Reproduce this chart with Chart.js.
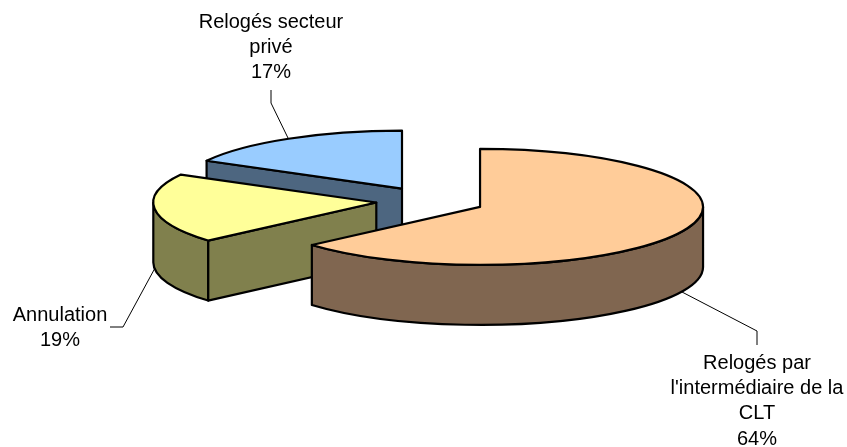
<!DOCTYPE html>
<html><head><meta charset="utf-8">
<style>html,body{margin:0;padding:0;background:#fff}#w{width:847px;height:447px;position:relative}canvas{display:block}</style>
<script src="https://cdn.jsdelivr.net/npm/chart.js@4/dist/chart.umd.min.js"></script>
</head><body><div id="w"><canvas id="c" width="847" height="447"></canvas></div>
<script>
const categories = ["Relogés par l'intermédiaire de la CLT", "Annulation", "Relogés secteur privé"];
const values = [63.6, 19.4, 17];
const topColors = ["#FFCC99", "#FFFF99", "#99CCFF"];
const sideColors = ["#806650", "#80804D", "#4D6680"];
const explode = [55, 54, 55];
const labelLines = [
  ["Relogés par", "l'intermédiaire de la", "CLT", "64%"],
  ["Annulation", "19%"],
  ["Relogés secteur", "privé", "17%"]
];
const labelAnchors = [[757, 369], [60, 321], [271, 28]];
const leaders = [
  [[682, 292], [757, 331], [757, 345]],
  [[155, 268], [123, 327], [110, 327]],
  [[288, 138], [271, 103], [271, 90]]
];
const SQUASH = 0.26, DEPTH = 60, RADIUS = 223, LINE_H = 25.2;

function squashAbout(ctx, cy) {
  ctx.translate(0, cy); ctx.scale(1, SQUASH); ctx.translate(0, -cy);
}
function geometry(el, i) {
  const mid = (el.startAngle + el.endAngle) / 2;
  const dx = Math.cos(mid) * explode[i], dy = Math.sin(mid) * explode[i];
  return { dx, dy, x: el.x + dx, y: el.y + dy, r: el.outerRadius };
}
function paintPath(ctx, cy, build, fill) {
  ctx.save(); squashAbout(ctx, cy);
  ctx.beginPath(); build();
  ctx.restore();
  if (fill) { ctx.fillStyle = fill; ctx.fill(); }
  ctx.strokeStyle = '#000'; ctx.lineWidth = 2.2; ctx.stroke();
}
const pie3d = {
  id: 'pie3d',
  beforeDatasetsDraw(chart) {
    const ctx = chart.ctx, arcs = chart.getDatasetMeta(0).data, cy = arcs[0].y;
    const dz = DEPTH / SQUASH;
    ctx.save();
    ctx.lineJoin = 'round';
    for (let i = arcs.length - 1; i >= 0; i--) {
      const el = arcs[i], g = geometry(el, i), a = el.startAngle, b = el.endAngle;
      const wall = ang => () => {
        const ex = g.x + Math.cos(ang) * g.r, ey = g.y + Math.sin(ang) * g.r;
        ctx.moveTo(g.x, g.y); ctx.lineTo(ex, ey); ctx.lineTo(ex, ey + dz); ctx.lineTo(g.x, g.y + dz); ctx.closePath();
      };
      if (-Math.cos(a) > 1e-6) paintPath(ctx, cy, wall(a), sideColors[i]);
      if (Math.cos(b) > 1e-6) paintPath(ctx, cy, wall(b), sideColors[i]);
      const a0 = Math.max(a, 0), a1 = Math.min(b, Math.PI);
      if (a1 > a0) paintPath(ctx, cy, () => {
        ctx.arc(g.x, g.y, g.r, a0, a1);
        ctx.arc(g.x, g.y + dz, g.r, a1, a0, true);
        ctx.closePath();
      }, sideColors[i]);
      ctx.save(); squashAbout(ctx, cy);
      ctx.translate(g.dx, g.dy);
      el.draw(ctx);
      ctx.restore();
      paintPath(ctx, cy, () => {
        ctx.moveTo(g.x, g.y);
        ctx.arc(g.x, g.y, g.r, a, b);
        ctx.closePath();
      });
    }
    ctx.restore();
  },
  afterDraw(chart) {
    const ctx = chart.ctx;
    ctx.save();
    ctx.strokeStyle = '#000'; ctx.lineWidth = 1;
    leaders.forEach(pts => {
      ctx.beginPath();
      pts.forEach((p, k) => k ? ctx.lineTo(p[0], p[1]) : ctx.moveTo(p[0], p[1]));
      ctx.stroke();
    });
    ctx.fillStyle = '#000';
    ctx.font = '20px "Liberation Sans", Arial, sans-serif';
    ctx.textAlign = 'center'; ctx.textBaseline = 'alphabetic';
    labelLines.forEach((lines, i) => {
      lines.forEach((t, k) => ctx.fillText(t, labelAnchors[i][0], labelAnchors[i][1] + k * LINE_H));
    });
    ctx.restore();
  }
};
new Chart(document.getElementById('c'), {
  type: 'pie',
  data: {
    labels: categories,
    datasets: [{
      data: values,
      backgroundColor: topColors,
      borderWidth: 0,
      radius: RADIUS
    }]
  },
  options: {
    responsive: false,
    animation: false,
    events: [],
    layout: { padding: { left: 13, right: 0, top: 0, bottom: 45 } },
    plugins: { legend: { display: false }, tooltip: { enabled: false } }
  },
  plugins: [pie3d, {
    id: 'hideDefaultArcs',
    beforeDatasetDraw() { return false; }
  }]
});
</script></body></html>
